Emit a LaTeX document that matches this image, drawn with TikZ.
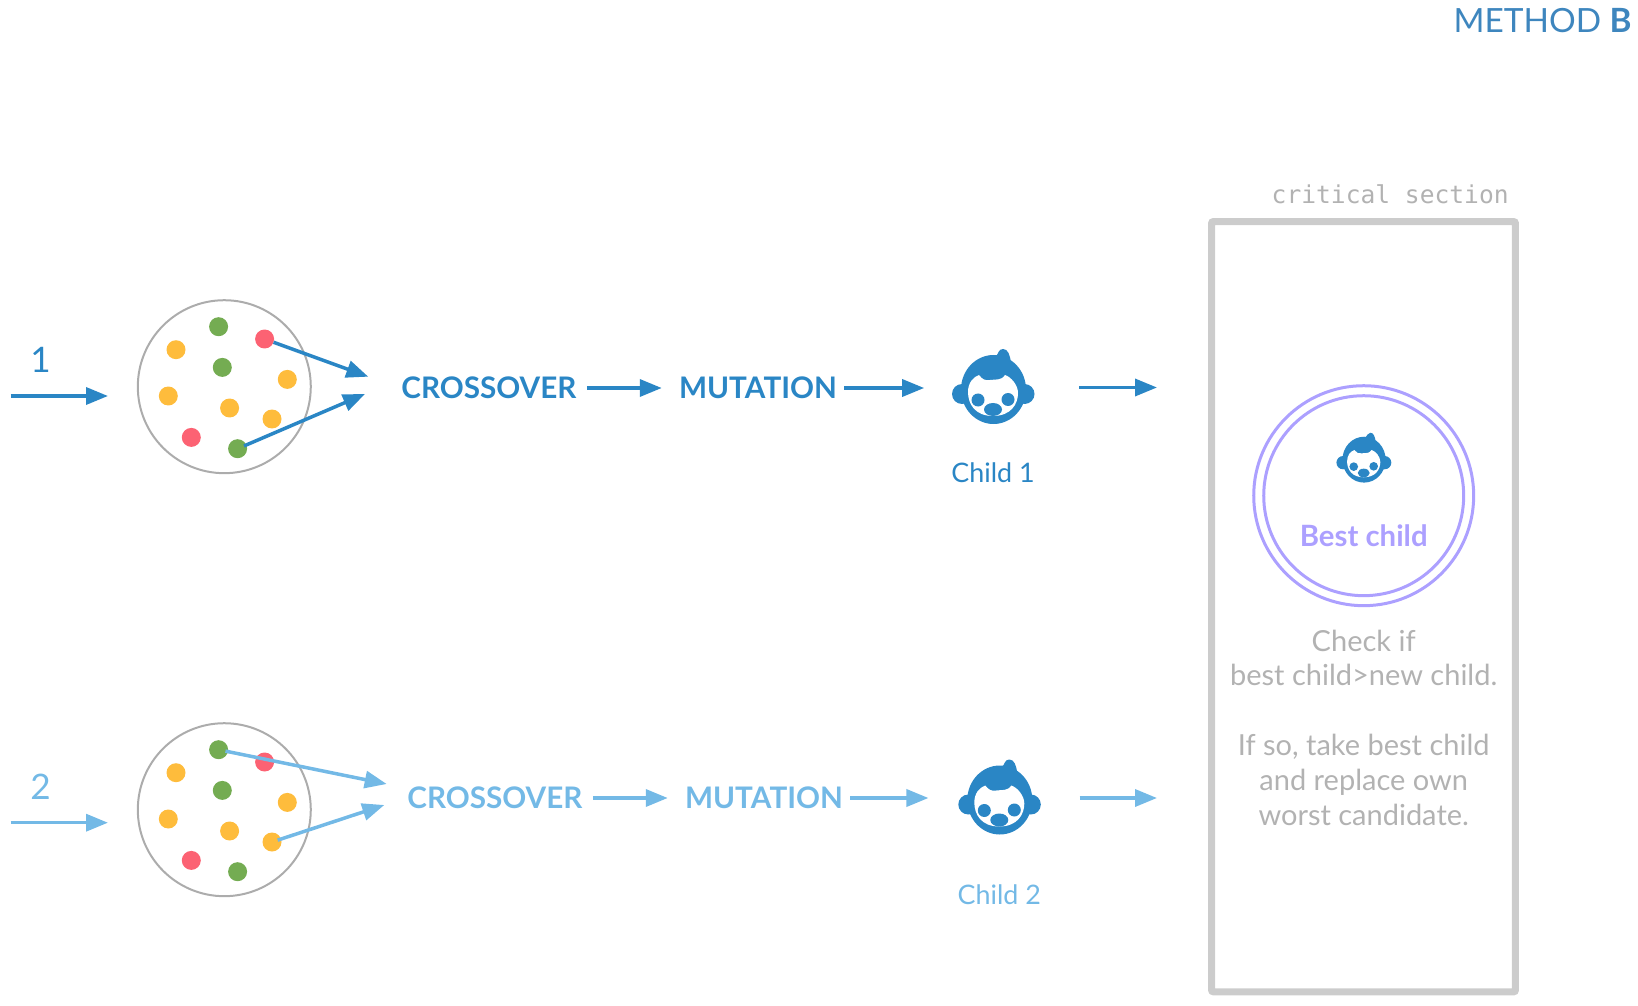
\documentclass[tikz,border=0pt]{standalone}
\usepackage{fontspec}
\setmainfont{Lato}
\setmonofont{DejaVu Sans Mono}
\usetikzlibrary{arrows.meta,positioning}
\definecolor{monkeyBlue}{RGB}{42,134,197}
\definecolor{monkeyLight}{RGB}{115,185,230}
\definecolor{methodBlue}{RGB}{62,134,190}
\definecolor{dotGreen}{RGB}{116,172,82}
\definecolor{dotRed}{RGB}{252,98,115}
\definecolor{dotOrange}{RGB}{254,188,60}
\definecolor{ringGray}{RGB}{172,172,172}
\definecolor{boxGray}{RGB}{204,204,204}
\definecolor{noteGray}{RGB}{178,178,178}
\definecolor{bestPurple}{RGB}{172,160,255}
\tikzset{
  population/.style={circle, draw=ringGray, line width=0.04cm, minimum size=3.46cm, inner sep=0pt},
  gooddot/.style={circle, fill=dotGreen, minimum size=0.38cm, inner sep=0pt},
  baddot/.style={circle, fill=dotRed, minimum size=0.38cm, inner sep=0pt},
  middot/.style={circle, fill=dotOrange, minimum size=0.38cm, inner sep=0pt},
  steplabel/.style={font=\fontsize{16.9}{20}\selectfont\bfseries, inner sep=0pt},
  threadlabel/.style={font=\fontsize{20}{24}\selectfont, inner sep=0pt},
  childlabel/.style={font=\fontsize{15.3}{18}\selectfont, inner sep=0pt},
  monkeyslot/.style={circle, minimum size=1.7cm, inner sep=0pt},
  flowone/.style={-{Triangle[length=0.44cm,width=0.34cm]}, draw=monkeyBlue, line width=0.07cm},
  flowtwo/.style={-{Triangle[length=0.44cm,width=0.34cm]}, draw=monkeyLight, line width=0.07cm},
  monkey/.pic={
    \fill[monkeyBlue] (0.5,-0.5) ellipse [x radius=32.5, y radius=34.5];
    \fill[monkeyBlue] (-31,4) circle (10);
    \fill[monkeyBlue] (31.5,4) circle (10);
    \fill[monkeyBlue] (2,-33) .. controls (6,-36) and (5,-41) .. (10,-41)
      .. controls (15,-41) and (17,-35) .. (18,-27) -- cycle;
    \fill[white] (-25,2) .. controls (-25,-7) and (-20,-13) .. (-14,-15)
      .. controls (-11,-11) and (-8,-9) .. (-3,-10)
      .. controls (3,-11) and (8,-9) .. (12,-15)
      .. controls (18,-13) and (25,-5) .. (25,3)
      .. controls (25,14) and (18,26) .. (0,26)
      .. controls (-18,26) and (-25,14) .. (-25,2) -- cycle;
    \fill[monkeyBlue] (-15,10) circle (6.5);
    \fill[monkeyBlue] (15,9.5) circle (6.5);
    \fill[monkeyBlue] (0,19.5) ellipse [x radius=9, y radius=6.5];
  },
}
\begin{document}
\begin{tikzpicture}[x=0.02cm, y=-0.02cm]
  \useasboundingbox (0,0) rectangle (1638,1006);

  \node[font=\fontsize{19}{23}\selectfont, text=methodBlue, anchor=east, inner sep=0pt] (title)
    at (1632,21) {METHOD \textbf{B}};

  % first thread
  \node[population] (pop1) at (224.3,386.7) {};
  \node[gooddot] (p1a) at (218.6,326.7) {};
  \node[baddot] (p1b) at (264.6,339) {};
  \node[middot] (p1c) at (176,349.7) {};
  \node[gooddot] (p1d) at (222.3,367.4) {};
  \node[middot] (p1e) at (287.3,379.4) {};
  \node[middot] (p1f) at (168.3,396) {};
  \node[middot] (p1g) at (229.6,408) {};
  \node[middot] (p1h) at (272,419) {};
  \node[baddot] (p1i) at (191.3,437.4) {};
  \node[gooddot] (p1j) at (237.6,448.7) {};

  \node[threadlabel, text=monkeyBlue] (num1) at (40.5,360) {1};
  \coordinate (in1) at (10.5,396);
  \coordinate (entry1) at (108,396);
  \coordinate (tip1a) at (368.3,376.7);
  \coordinate (tip1b) at (365,394);
  \node[steplabel, text=monkeyBlue, anchor=west] (cross1) at (401,388) {CROSSOVER};
  \node[steplabel, text=monkeyBlue, right=2.04cm of cross1] (mut1) {MUTATION};
  \node[monkeyslot] (kid1) at (993,390) {};
  \pic at (kid1) {monkey};
  \node[childlabel, text=monkeyBlue, below=0.585cm of kid1] (name1) {Child 1};
  \coordinate (out1) at (1157,387.5);

  \draw[flowone] (in1) -- (entry1);
  \draw[flowone, shorten <=0.19cm] (p1b.center) -- (tip1a);
  \draw[flowone, shorten <=0.14cm] (p1j.center) -- (tip1b);
  \draw[flowone, shorten <=0.2cm, shorten >=0.34cm] (cross1.east) -- (mut1.west);
  \draw[flowone, shorten <=0.14cm, shorten >=0.52cm] (mut1.east) -- (kid1.west |- mut1.east);
  \draw[flowone, shorten <=0.87cm] (kid1.east |- out1) -- (out1);

  % second thread
  \node[population] (pop2) at (224.3,809.7) {};
  \node[gooddot] (p2a) at (218.6,749.7) {};
  \node[baddot] (p2b) at (264.6,762) {};
  \node[middot] (p2c) at (176,772.7) {};
  \node[gooddot] (p2d) at (222.3,790.4) {};
  \node[middot] (p2e) at (287.3,802.4) {};
  \node[middot] (p2f) at (168.3,819) {};
  \node[middot] (p2g) at (229.6,831) {};
  \node[middot] (p2h) at (272,842) {};
  \node[baddot] (p2i) at (191.3,860.4) {};
  \node[gooddot] (p2j) at (237.6,871.7) {};

  \node[threadlabel, text=monkeyLight] (num2) at (40.5,787) {2};
  \coordinate (in2) at (10.5,822.7);
  \coordinate (entry2) at (108,822.7);
  \coordinate (tip2a) at (386.7,784);
  \coordinate (tip2b) at (384.3,805);
  \node[steplabel, text=monkeyLight, anchor=west] (cross2) at (407,798) {CROSSOVER};
  \node[steplabel, text=monkeyLight, right=2.04cm of cross2] (mut2) {MUTATION};
  \node[monkeyslot] (kid2) at (999.3,800.5) {};
  \pic at (kid2) {monkey};
  \node[childlabel, text=monkeyLight, below=0.82cm of kid2] (name2) {Child 2};
  \coordinate (out2) at (1157,798);

  \draw[flowtwo] (in2) -- (entry2);
  \draw[flowtwo, shorten <=0.14cm] (p2a.center) -- (tip2a);
  \draw[flowtwo, shorten <=0.12cm] (p2h.center) -- (tip2b);
  \draw[flowtwo, shorten <=0.2cm, shorten >=0.34cm] (cross2.east) -- (mut2.west);
  \draw[flowtwo, shorten <=0.14cm, shorten >=0.56cm] (mut2.east) -- (kid2.west |- mut2.east);
  \draw[flowtwo, shorten <=0.75cm] (kid2.east |- out2) -- (out2);

  % critical section
  \node[draw=boxGray, line width=0.14cm, rounded corners=0.04cm, minimum width=6.08cm,
    minimum height=15.41cm, inner sep=0pt] (section) at (1363.5,606.7) {};
  \node[font=\fontsize{14}{16}\selectfont\ttfamily, text=noteGray, anchor=east, inner sep=0pt] (sectionname)
    at (1509,194) {critical section};
  \node[circle, draw=bestPurple, line width=0.06cm, minimum size=4.4cm, inner sep=0pt] (outerring)
    at (1363.7,495.7) {};
  \node[circle, draw=bestPurple, line width=0.06cm, minimum size=4.0cm, inner sep=0pt] (innerring)
    at (1363.7,495.7) {};
  \pic[scale=0.665] at (1363.7,460) {monkey};
  \node[font=\fontsize{16.7}{19}\selectfont\bfseries, text=bestPurple, inner sep=0pt] (bestname)
    at (1363.7,536) {Best child};
  \node[font=\fontsize{16.5}{19.8}\selectfont, text=noteGray, align=center, inner sep=0pt] (note)
    at (1363.7,727.5) {Check if\\best child>new child.\\[19.8pt]If so, take best child\\and replace own\\worst candidate.};
\end{tikzpicture}
\end{document}
